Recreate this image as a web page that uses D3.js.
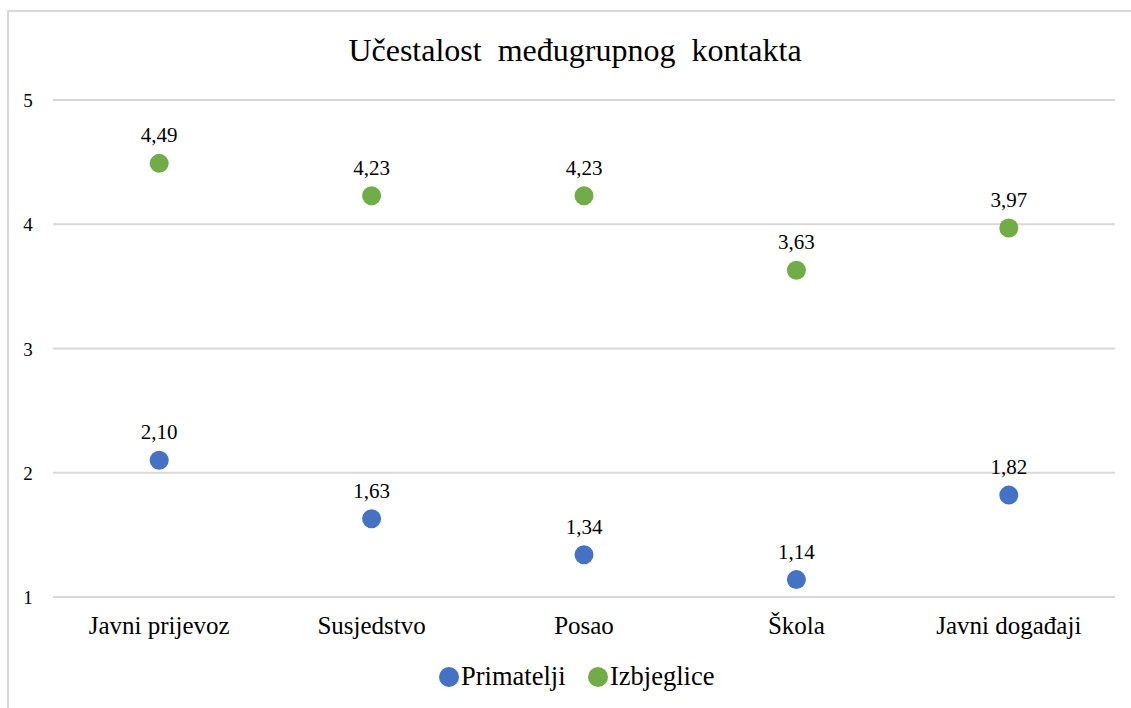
<!DOCTYPE html>
<html>
<head>
<meta charset="utf-8">
<script src="https://cdn.jsdelivr.net/npm/d3@7"></script>
<style>
  body { margin: 0; background: #fff; }
</style>
</head>
<body>
<div id="chart"></div>
<script>
// chart data
var categories = ["Javni prijevoz", "Susjedstvo", "Posao", "Škola", "Javni događaji"];
var primatelji = [2.10, 1.63, 1.34, 1.14, 1.82];
var izbjeglice = [4.49, 4.23, 4.23, 3.63, 3.97];
var yTicks = [1, 2, 3, 4, 5];
var seriesNames = ["Primatelji", "Izbjeglice"];
var seriesColors = ["#4472c4", "#70ad47"];

var W = 1131, H = 708;
var svg = d3.select("#chart").append("svg").attr("width", W).attr("height", H)
  .attr("font-family", "'Liberation Serif', 'Times New Roman', serif")
  .attr("fill", "#000");

// outer frame (runs off the right and bottom edge)
svg.append("rect")
  .attr("x", 8).attr("y", 11)
  .attr("width", 1140).attr("height", 720)
  .attr("fill", "none").attr("stroke", "#d9d9d9").attr("stroke-width", 2);

var x = d3.scaleBand().domain(categories).range([53, 1115]);
var y = d3.scaleLinear().domain([1, 5]).range([597, 100]);
var cx = c => x(c) + x.bandwidth() / 2;

// title
svg.append("text")
  .attr("x", 575).attr("y", 61)
  .attr("text-anchor", "middle")
  .style("font-size", "32px")
  .style("word-spacing", "8px")
  .text("Učestalost međugrupnog kontakta");

// gridlines
svg.append("g").selectAll("line")
  .data(yTicks).enter().append("line")
  .attr("x1", 53).attr("x2", 1115)
  .attr("y1", d => y(d)).attr("y2", d => y(d))
  .attr("stroke", "#d9d9d9").attr("stroke-width", 2);

// y labels
svg.append("g").selectAll("text")
  .data(yTicks).enter().append("text")
  .attr("x", 28).attr("y", d => y(d) + 7)
  .attr("text-anchor", "middle")
  .style("font-size", "19px")
  .text(d => d);

// x labels
svg.append("g").selectAll("text")
  .data(categories).enter().append("text")
  .attr("x", cx)
  .attr("y", 634)
  .attr("text-anchor", "middle")
  .style("font-size", "25px")
  .text(d => d);

var fmt = v => v.toFixed(2).replace(".", ",");

[primatelji, izbjeglice].forEach(function(vals, s) {
  var g = svg.append("g");
  g.selectAll("circle")
    .data(vals).enter().append("circle")
    .attr("cx", (d, i) => cx(categories[i]))
    .attr("cy", d => y(d))
    .attr("r", 9.5)
    .attr("fill", seriesColors[s]);
  g.selectAll("text")
    .data(vals).enter().append("text")
    .attr("x", (d, i) => cx(categories[i]))
    .attr("y", d => y(d) - 21)
    .attr("text-anchor", "middle")
    .style("font-size", "21px")
    .text(fmt);
});

// legend
var legX = [449, 598];
seriesNames.forEach(function(name, i) {
  svg.append("circle")
    .attr("cx", legX[i]).attr("cy", 677).attr("r", 10)
    .attr("fill", seriesColors[i]);
  svg.append("text")
    .attr("x", legX[i] + 12).attr("y", 685)
    .style("font-size", "26.5px")
    .text(name);
});
</script>
</body>
</html>
